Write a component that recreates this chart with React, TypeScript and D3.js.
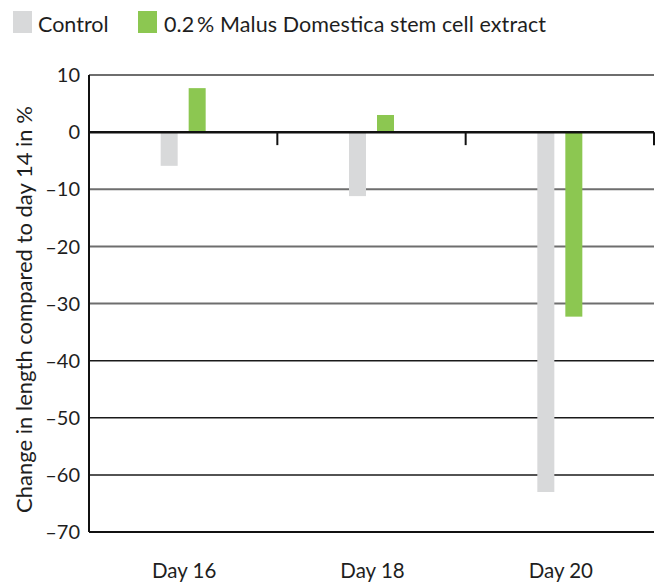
import * as React from 'react';
import * as d3 from 'd3';

const days = ['Day 16', 'Day 18', 'Day 20'];
const seriesNames = ['Control', '0.2% Malus Domestica stem cell extract'];
const controlValues = [-5.9, -11.2, -63.0];
const extractValues = [7.7, 3.0, -32.3];
const yTicks = [10, 0, -10, -20, -30, -40, -50, -60, -70];

const colors = ['#d8d9da', '#8cc751'];
const font = 'Lato, "Open Sans", sans-serif';
const ink = '#1e1e1e';

const width = 660;
const height = 583;
const margin = { top: 75, right: 6, bottom: 51, left: 89 };

export default function App() {
  const x = d3.scaleBand<string>()
    .domain(days)
    .range([margin.left, width - margin.right])
    .padding(0);

  const y = d3.scaleLinear()
    .domain([-70, 10])
    .range([height - margin.bottom, margin.top]);

  // two bars of 17px with an 11px gap, centred in each day
  const inner = d3.scaleBand<string>()
    .domain(seriesNames)
    .range([0, 45])
    .paddingInner(11 / 28)
    .paddingOuter(0);

  const series = [controlValues, extractValues];
  const zero = y(0);

  return (
    <svg width={width} height={height} style={{ position: 'absolute', left: 0, top: 0, fontFamily: font }}>
      <rect width={width} height={height} fill="#fff" />

      {/* legend */}
      <g>
        <rect x={13} y={11} width={19} height={22} fill={colors[0]} />
        <text x={38} y={32} fontSize={21.5} fill={ink}>{seriesNames[0]}</text>
        <rect x={138} y={11} width={19} height={22} fill={colors[1]} />
        <text x={164} y={32} fontSize={21.5} fill={ink} textLength={382} lengthAdjust="spacing">
          {seriesNames[1].replace('%', '\u2009%')}
        </text>
      </g>

      {/* grid lines */}
      {yTicks.filter((t) => t !== 0 && t !== -70).map((t) => (
        <line key={t} x1={margin.left} x2={width - margin.right} y1={y(t)} y2={y(t)}
          stroke={t > -40 ? '#6e6e6e' : '#1a1a1a'} strokeWidth={t > -40 ? 2 : 1.5} />
      ))}

      {/* bars */}
      {days.map((d, i) => {
        const cx = (x(d) as number) + x.bandwidth() / 2 - 22.5;
        return series.map((vals, s) => {
          const v = vals[i];
          const bx = cx + (inner(seriesNames[s]) as number);
          return (
            <rect key={d + s} x={bx} width={inner.bandwidth()}
              y={Math.min(y(v), zero)} height={Math.abs(y(v) - zero)} fill={colors[s]} />
          );
        });
      })}

      {/* zero line and ticks */}
      <line x1={margin.left} x2={width - margin.right} y1={zero} y2={zero} stroke="#111" strokeWidth={2.5} />
      {days.map((d) => (
        <line key={d} x1={(x(d) as number) + x.bandwidth()} x2={(x(d) as number) + x.bandwidth()}
          y1={zero} y2={zero + 13} stroke="#111" strokeWidth={2} />
      ))}

      {/* axes */}
      <line x1={margin.left} x2={margin.left} y1={y(10)} y2={y(-70)} stroke="#111" strokeWidth={2} />
      <line x1={margin.left} x2={width - margin.right} y1={y(-70)} y2={y(-70)} stroke="#111" strokeWidth={2} />

      {yTicks.map((t) => (
        <text key={t} x={80} y={y(t)} dy="0.36em" textAnchor="end" fontSize={20} fill={ink}>
          {t < 0 ? '\u2013' + Math.abs(t) : String(t)}
        </text>
      ))}

      {days.map((d) => (
        <text key={d} x={(x(d) as number) + x.bandwidth() / 2 + 1} y={578} textAnchor="middle" fontSize={20.5} fill={ink}>{d}</text>
      ))}

      <text transform={`translate(32,${(y(10) + y(-70)) / 2 + 6}) rotate(-90)`} textAnchor="middle" fontSize={22} fill={ink}>
        Change in length compared to day 14 in %
      </text>
    </svg>
  );
}
